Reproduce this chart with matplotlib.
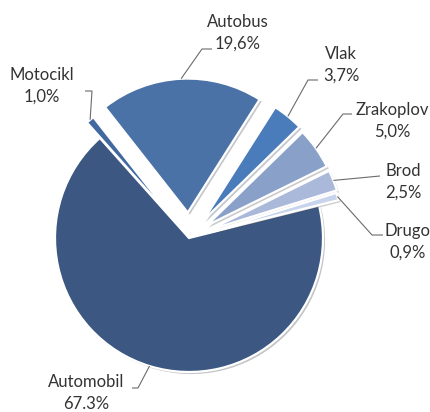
import matplotlib
matplotlib.use("Agg")
import matplotlib.pyplot as plt
import numpy as np
from matplotlib import patheffects as pe

categories = ["Automobil", "Motocikl", "Autobus", "Vlak", "Zrakoplov", "Brod", "Drugo"]
shares = [67.3, 1.0, 19.6, 3.7, 5.0, 2.5, 0.9]
pct_labels = ["67.3%", "1,0%", "19,6%", "3,7%", "5,0%", "2,5%", "0,9%"]

colors = ["#3B5782", "#4169A0", "#4A72A6", "#4A7BBA", "#89A0C8", "#AAB9DA", "#C8D4EB"]
explode_frac = [0, 0.15, 0.19, 0.17, 0.16, 0.16, 0.15]

W, H = 431, 412
fig = plt.figure(figsize=(W / 100, H / 100), dpi=100)
ax = fig.add_axes([0, 0, 1, 1])

cx, cy, R = 189, H - 238, 134
wedges, _ = ax.pie(shares, colors=colors, explode=[e * R for e in explode_frac],
                   startangle=14, counterclock=False, center=(cx, cy), radius=R,
                   frame=True,
                   wedgeprops=dict(edgecolor="white", linewidth=1.6))
for w in wedges:
    w.set_path_effects([pe.SimplePatchShadow(offset=(1.5, -1.5), alpha=0.25),
                        pe.Normal()])

ax.set_xlim(0, W)
ax.set_ylim(0, H)
ax.set_aspect("equal")
ax.axis("off")

# label layout (pixel coords from top-left): text center, elbow, end
label_pos = {
    "Automobil": (86, 393),
    "Motocikl": (42, 86),
    "Autobus": (238, 33),
    "Vlak": (341, 65),
    "Zrakoplov": (392, 121),
    "Brod": (403, 182),
    "Drugo": (408, 242),
}
leader = {
    "Automobil": [(138, 388), (132, 388)],
    "Motocikl": [(92, 91), (85, 91)],
    "Autobus": [(202, 49), (212, 49)],
    "Vlak": [(308, 80), (318, 80)],
    "Zrakoplov": [(343, 114), (352, 114)],
    "Brod": [(380, 176)],
    "Drugo": [(372, 235), (383, 235)],
}

for w, cat, pct in zip(wedges, categories, pct_labels):
    mid = np.deg2rad((w.theta1 + w.theta2) / 2)
    wx, wy = w.center
    sx = wx + w.r * np.cos(mid)
    sy = wy + w.r * np.sin(mid)
    pts = [(sx, sy)] + [(x, H - y) for x, y in leader[cat]]
    xs, ys = zip(*pts)
    ax.plot(xs, ys, color="#6b6b6b", lw=0.8, solid_capstyle="butt")
    tx, ty = label_pos[cat]
    ax.text(tx, H - ty, f"{cat}\n{pct}", ha="center", va="center",
            fontsize=12, family="Lato", color="#333333", linespacing=1.4)

fig.savefig("out.png", dpi=100)
